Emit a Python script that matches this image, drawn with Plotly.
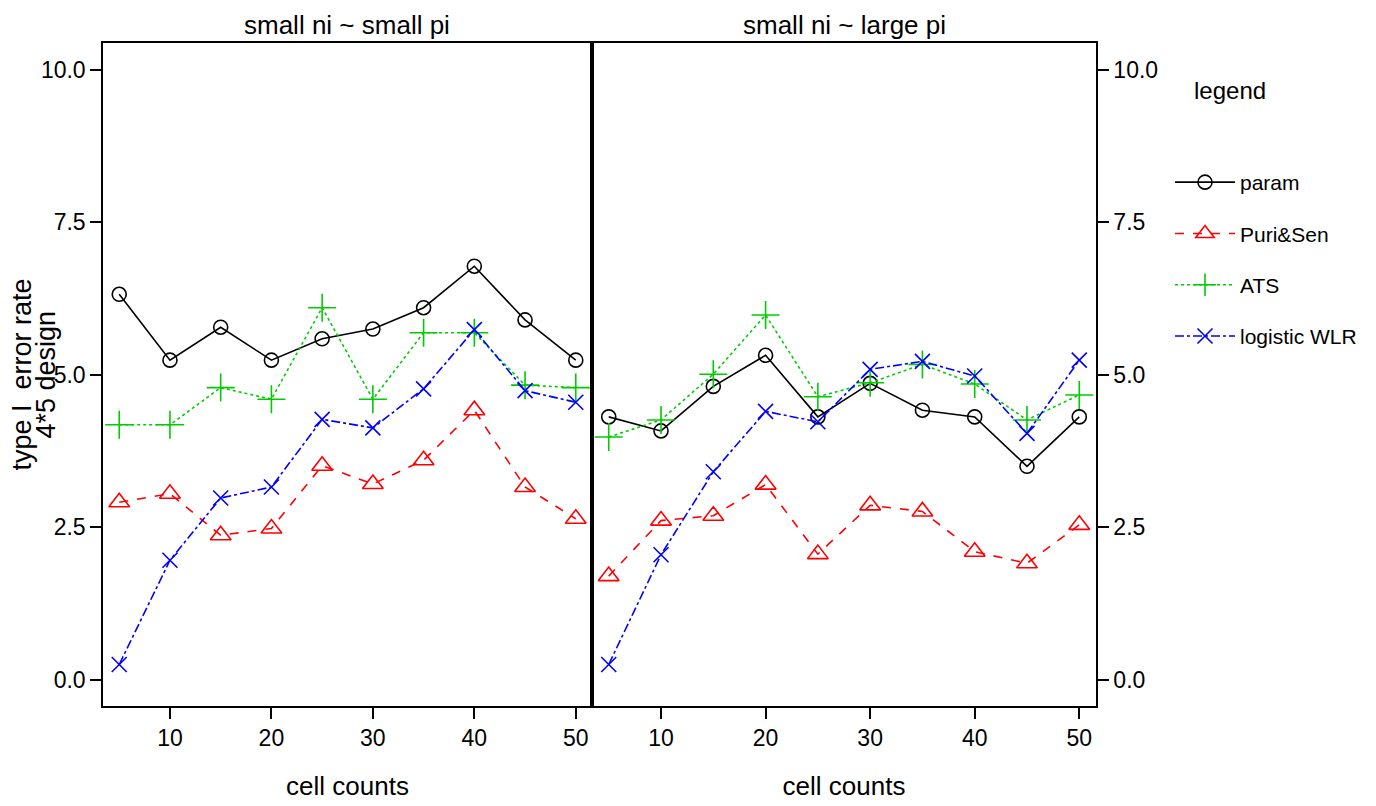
import plotly.graph_objects as go

# cell counts on the x axis
cell_counts = [5, 10, 15, 20, 25, 30, 35, 40, 45, 50]

# type I error rate (%) — panel "small ni ~ small pi"
param_sp = [6.32, 5.24, 5.78, 5.24, 5.59, 5.75, 6.10, 6.78, 5.90, 5.24]
puri_sp = [2.91, 3.05, 2.37, 2.48, 3.51, 3.21, 3.60, 4.42, 3.16, 2.64]
ats_sp = [4.18, 4.18, 4.79, 4.60, 6.10, 4.60, 5.69, 5.69, 4.83, 4.79]
wlr_sp = [0.25, 1.96, 2.98, 3.16, 4.27, 4.13, 4.77, 5.74, 4.74, 4.55]

# type I error rate (%) — panel "small ni ~ large pi"
param_lp = [4.31, 4.08, 4.81, 5.32, 4.31, 4.86, 4.42, 4.31, 3.50, 4.31]
puri_lp = [1.70, 2.61, 2.69, 3.20, 2.06, 2.86, 2.76, 2.10, 1.91, 2.54]
ats_lp = [3.98, 4.26, 5.01, 5.98, 4.64, 4.87, 5.17, 4.85, 4.26, 4.67]
wlr_lp = [0.25, 2.05, 3.41, 4.40, 4.23, 5.09, 5.22, 4.98, 4.04, 5.24]

panel_titles = ["small ni ~ small pi", "small ni ~ large pi"]
y_ticks = [0.0, 2.5, 5.0, 7.5, 10.0]
y_tick_text = ["0.0", "2.5", "5.0", "7.5", "10.0"]
x_ticks = [10, 20, 30, 40, 50]

methods = [
    # name, color, dash, symbol, size
    ("param", "#000000", "solid", "circle-open", 14),
    ("Puri&Sen", "#ff0000", "dash", "triangle-up-open", 18),
    ("ATS", "#00cc00", "dot", "cross-thin-open", 20),
    ("logistic WLR", "#0000ff", "dashdot", "x-thin-open", 15),
]
panel_data = [
    [param_sp, puri_sp, ats_sp, wlr_sp],
    [param_lp, puri_lp, ats_lp, wlr_lp],
]

FONT = "Liberation Sans, Arial, sans-serif"
W, H = 1376, 806

fig = go.Figure()
for p, series in enumerate(panel_data):
    xa = "x" if p == 0 else "x2"
    ya = "y" if p == 0 else "y2"
    for (name, color, dash, symbol, size), vals in zip(methods, series):
        fig.add_trace(go.Scatter(
            x=cell_counts, y=vals, name=name, mode="lines+markers",
            xaxis=xa, yaxis=ya,
            line=dict(color=color, dash=dash, width=1.6),
            marker=dict(symbol=symbol, size=size, color=color,
                        line=dict(color=color, width=1.6)),
            legendgroup=name, showlegend=(p == 0),
        ))

# panel geometry in pixels
left_px, mid_px, right_px = 103, 592, 1096
top_px, bottom_px = 43, 706
dom_left = [left_px / W, mid_px / W]
dom_right = [mid_px / W, right_px / W]
dom_y = [1 - bottom_px / H, 1 - top_px / H]

x_range = [3.4, 51.6]
y_range = [-0.43, 10.44]

axis_common = dict(
    showgrid=False, zeroline=False, showline=True, linecolor="black",
    linewidth=1.5, ticks="outside", tickcolor="black", ticklen=11,
    tickwidth=1.5, tickfont=dict(family=FONT, size=23, color="black"),
)

fig.update_layout(
    width=W, height=H,
    margin=dict(l=0, r=0, t=0, b=0),
    plot_bgcolor="white", paper_bgcolor="white",
    font=dict(family=FONT, color="black"),
    xaxis=dict(domain=dom_left, range=x_range, tickvals=x_ticks,
               anchor="y", mirror=True,
               title=dict(text="cell counts", font=dict(size=26), standoff=26),
               **axis_common),
    xaxis2=dict(domain=dom_right, range=x_range, tickvals=x_ticks,
                anchor="y2", mirror=True,
                title=dict(text="cell counts", font=dict(size=26), standoff=26),
                **axis_common),
    yaxis=dict(domain=dom_y, range=y_range, tickvals=y_ticks,
               ticktext=y_tick_text, anchor="x", side="left", mirror=True,
               **axis_common),
    yaxis2=dict(domain=dom_y, range=y_range, tickvals=y_ticks,
                ticktext=y_tick_text, anchor="x2", side="right", mirror=True,
                **axis_common),
    legend=dict(
        x=1170 / W, y=1 - 162 / H, xanchor="left", yanchor="top",
        font=dict(family=FONT, size=21, color="black"),
        traceorder="grouped", tracegroupgap=21, itemwidth=60,
        bgcolor="rgba(0,0,0,0)",
    ),
    showlegend=True,
)

# thick divider between panels
fig.add_shape(type="line", xref="paper", yref="paper",
              x0=mid_px / W, x1=mid_px / W, y0=dom_y[0], y1=dom_y[1],
              line=dict(color="black", width=3.5))

# panel strip titles
for title, dom in zip(panel_titles, [dom_left, dom_right]):
    fig.add_annotation(text=title, x=(dom[0] + dom[1]) / 2, y=dom_y[1],
                       xref="paper", yref="paper", xanchor="center",
                       yanchor="bottom", yshift=1, showarrow=False,
                       font=dict(family=FONT, size=26, color="black"))

# y-axis title, two tightly spaced lines
y_mid = (dom_y[0] + dom_y[1]) / 2
for line_text, xpix in [("type I  error rate", 21), ("4*5 design", 45)]:
    fig.add_annotation(text=line_text, x=xpix / W, y=y_mid,
                       xref="paper", yref="paper", xanchor="center",
                       yanchor="middle", textangle=-90, showarrow=False,
                       font=dict(family=FONT, size=27, color="black"))

# legend heading
fig.add_annotation(text="legend", x=1230 / W, y=1 - 90 / H, xref="paper",
                   yref="paper", xanchor="center", yanchor="middle",
                   showarrow=False,
                   font=dict(family=FONT, size=24, color="black"))

fig.write_html("out.html")
